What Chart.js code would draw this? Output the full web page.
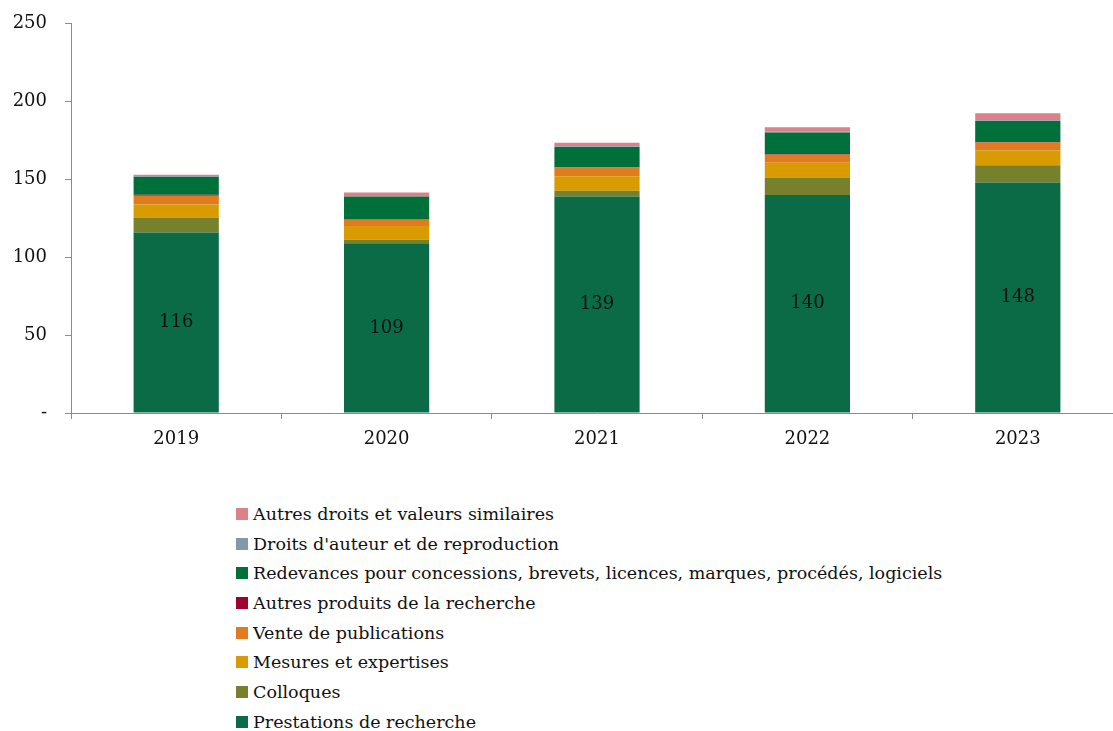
<!DOCTYPE html>
<html><head><meta charset="utf-8">
<script src="https://cdn.jsdelivr.net/npm/chart.js@4/dist/chart.umd.min.js"></script>
<style>
html,body{margin:0;padding:0;background:#fff;overflow:hidden;}
#wrap{position:absolute;left:0;top:-5px;width:1123px;height:475px;}
#legend{position:absolute;left:236px;top:499px;font-family:"DejaVu Serif",serif;font-size:17.5px;color:#111;}
.li{height:29.7px;display:flex;align-items:center;}
.sw{width:12px;height:12px;margin-right:5px;flex:none;}
</style></head>
<body>
<div id="wrap"><canvas id="c"></canvas></div>
<div id="legend"></div>
<script>
const categories = ["2019","2020","2021","2022","2023"];
const prestations = [116,109,139,140,148];
const colloques = [9.5,2.3,3.8,11.2,11.2];
const mesures = [8.5,8.8,9.2,9.6,9.4];
const vente = [5.5,4.0,5.7,5.1,5.1];
const autresProduits = [0.7,0.3,0.3,0.3,0.3];
const redevances = [11.5,14.7,12.8,14.0,13.6];
const droitsAuteur = [0.3,0.2,0.6,0.6,0.5];
const autresDroits = [1.0,2.3,2.2,2.8,4.5];
const yTicks = [0,50,100,150,200,250];

const series = [
  {label:"Prestations de recherche", data:prestations, color:"#0B6B47"},
  {label:"Colloques", data:colloques, color:"#77802A"},
  {label:"Mesures et expertises", data:mesures, color:"#D89B00"},
  {label:"Vente de publications", data:vente, color:"#E07B1F"},
  {label:"Autres produits de la recherche", data:autresProduits, color:"#A0002E"},
  {label:"Redevances pour concessions, brevets, licences, marques, procédés, logiciels", data:redevances, color:"#00703A"},
  {label:"Droits d'auteur et de reproduction", data:droitsAuteur, color:"#8497A8"},
  {label:"Autres droits et valeurs similaires", data:autresDroits, color:"#DA8189"}
];

const FONT = "DejaVu Serif";
const labelPlugin = {
  id:"lbl",
  afterDatasetsDraw(chart){
    const ctx = chart.ctx;
    const meta = chart.getDatasetMeta(0);
    ctx.save();
    ctx.font = "18px '" + FONT + "'";
    ctx.fillStyle = "#111";
    ctx.textAlign = "center";
    ctx.textBaseline = "middle";
    meta.data.forEach((bar,i)=>{
      ctx.fillText(String(prestations[i]), bar.x, (bar.y+bar.base)/2);
    });
    ctx.restore();
  }
};

new Chart(document.getElementById("c"), {
  type:"bar",
  data:{
    labels:categories,
    datasets:series.map(s=>({label:s.label,data:s.data,backgroundColor:s.color,borderWidth:0,barPercentage:0.405,categoryPercentage:1}))
  },
  options:{
    responsive:true, maintainAspectRatio:false, animation:false,
    layout:{padding:{top:7,right:0,left:0,bottom:0}},
    plugins:{legend:{display:false},tooltip:{enabled:false}},
    scales:{
      x:{
        stacked:true,
        border:{color:"#8c8c8c",width:1},
        grid:{display:true,drawOnChartArea:false,drawTicks:true,tickLength:6,color:"#8c8c8c",offset:true},
        ticks:{color:"#111",font:{family:FONT,size:18},padding:10},
        afterFit(s){s.height=57;}
      },
      y:{
        stacked:true,min:0,max:250,
        afterBuildTicks(s){s.ticks=yTicks.map(v=>({value:v}));},
        border:{color:"#8c8c8c",width:1},
        grid:{display:true,drawOnChartArea:false,drawTicks:true,tickLength:6,color:"#8c8c8c"},
        ticks:{color:"#111",font:{family:FONT,size:18},padding:18,callback:v=>v===0?"-":String(v)},
        afterFit(s){s.width=71;}
      }
    }
  },
  plugins:[labelPlugin]
});

const lg = document.getElementById("legend");
series.slice().reverse().forEach(s=>{
  const d=document.createElement("div");d.className="li";
  const sw=document.createElement("span");sw.className="sw";sw.style.background=s.color;
  const t=document.createElement("span");t.textContent=s.label;
  d.appendChild(sw);d.appendChild(t);lg.appendChild(d);
});
</script>
</body></html>
